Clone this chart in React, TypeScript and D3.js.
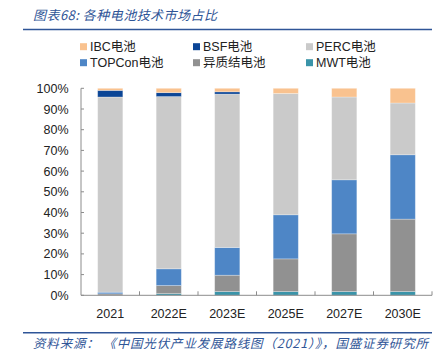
import React from "react";
import * as d3 from "d3";

const categories = ["2021", "2022E", "2023E", "2025E", "2027E", "2030E"];
const seriesNames = ["MWT电池", "异质结电池", "TOPCon电池", "PERC电池", "BSF电池", "IBC电池"];
const mwt = [0, 0.8, 1.8, 1.8, 1.8, 1.8];
const hjt = [0.7, 3.9, 7.9, 15.8, 27.9, 35.0];
const topcon = [0.8, 8.1, 13.4, 21.3, 26.1, 31.1];
const perc = [94.3, 83.2, 74.1, 58.6, 40.0, 25.0];
const bsf = [3.2, 1.9, 1.1, 0, 0, 0];
const ibc = [1.0, 2.1, 1.7, 2.5, 4.2, 7.1];
const yTicks = [0, 10, 20, 30, 40, 50, 60, 70, 80, 90, 100];
const legendOrder = ["IBC电池", "BSF电池", "PERC电池", "TOPCon电池", "异质结电池", "MWT电池"];
const titleText = "图表68:  各种电池技术市场占比";
const sourceText = "资料来源：  《中国光伏产业发展路线图（2021）》，国盛证券研究所";

const colors: Record<string, string> = {
  "MWT电池": "#3A94A9",
  "异质结电池": "#919191",
  "TOPCon电池": "#4E86C6",
  "PERC电池": "#CACACA",
  "BSF电池": "#0B4596",
  "IBC电池": "#F9C28F",
};

const seriesValues = [mwt, hjt, topcon, perc, bsf, ibc];

export default function App() {
  const W = 445, H = 356;
  const left = 81, right = 432, top = 88.3, bottom = 295.3;
  const x = d3.scaleBand<string>().domain(categories).range([left, right]).paddingInner(0.57).paddingOuter(0.285);
  const y = d3.scaleLinear().domain([0, 100]).range([bottom, top]);

  const table = categories.map((c, i) => {
    const row: Record<string, any> = { cat: c };
    seriesNames.forEach((s, k) => (row[s] = seriesValues[k][i]));
    return row;
  });
  const stacked = d3.stack<any>().keys(seriesNames)(table);

  const font = "'Liberation Sans', 'Noto Sans CJK SC', sans-serif";
  const cjk = "'Noto Sans CJK SC', sans-serif";
  const blue = "#2F5597";
  const axisColor = "#8C8C8C";
  const step = (right - left) / categories.length;

  const legendCols = [80, 193, 306];
  const legendRows = [46.7, 62.7];

  return (
    <svg width={W} height={H} style={{ position: "absolute", left: 0, top: 0 }}>
      <rect width={W} height={H} fill="#fff" />
      <text x={33} y={20} fontFamily={cjk} fontSize={13} fontStyle="italic" fill={blue}
        textLength={184} lengthAdjust="spacing">{titleText}</text>
      <line x1={23} x2={432} y1={29.5} y2={29.5} stroke={blue} strokeWidth={1.5} />

      {legendOrder.map((name, i) => {
        const cx = legendCols[i % 3];
        const cy = legendRows[Math.floor(i / 3)];
        return (
          <g key={name}>
            <rect x={cx} y={cy - 3.5} width={7} height={7} fill={colors[name]} />
            <text x={cx + 10} y={cy + 4.3} fontFamily={font} fontSize={12.5} fill="#222">{name}</text>
          </g>
        );
      })}

      {stacked.map((layer) => (
        <g key={layer.key} fill={colors[layer.key]}>
          {layer.map((d, i) => {
            const h = y(d[0]) - y(d[1]);
            if (h <= 0) return null;
            return (
              <rect key={i} x={x(categories[i])} y={y(d[1])} width={x.bandwidth()} height={h}
                stroke="#ffffff" strokeOpacity={0.35} strokeWidth={0.8} />
            );
          })}
        </g>
      ))}

      <line x1={left} x2={left} y1={top} y2={bottom} stroke={axisColor} strokeWidth={1} />
      {yTicks.map((t) => (
        <g key={t}>
          <line x1={left} x2={left + 3} y1={y(t)} y2={y(t)} stroke={axisColor} />
          <text x={68.5} y={y(t) + 4.5} textAnchor="end" fontFamily={font} fontSize={12.5} fill="#222">{t}%</text>
        </g>
      ))}
      <line x1={left} x2={right} y1={bottom} y2={bottom} stroke={axisColor} strokeWidth={1} />
      {categories.map((c, i) => (
        <g key={c}>
          <line x1={left + step * (i + 1)} x2={left + step * (i + 1)} y1={bottom} y2={bottom - 4} stroke={axisColor} />
          <text x={(x(c) as number) + x.bandwidth() / 2} y={318} textAnchor="middle" fontFamily={font} fontSize={12.5} fill="#222">{c}</text>
        </g>
      ))}

      <line x1={23} x2={432} y1={332.7} y2={332.7} stroke={blue} strokeWidth={1.5} />
      <text x={33} y={347.5} fontFamily={cjk} fontSize={12.5} fontStyle="italic" fill={blue}
        textLength={395} lengthAdjust="spacing">{sourceText}</text>
    </svg>
  );
}
